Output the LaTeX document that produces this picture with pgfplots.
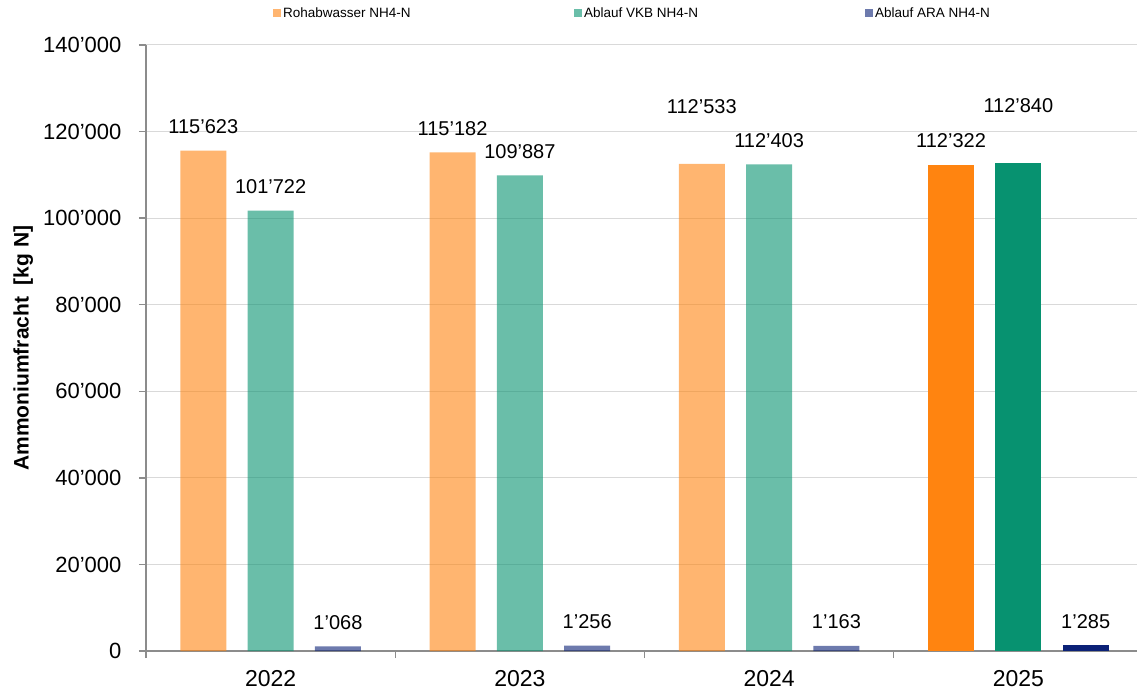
\documentclass[border=0pt]{standalone}
\usepackage{fontspec}
\setmainfont{Liberation Sans}
\usepackage{pgfplots}
\usepackage{pgfplotstable}
\pgfplotsset{compat=1.18}

\definecolor{cOrange}{HTML}{FF8410}
\definecolor{cGreen}{HTML}{079270}
\definecolor{cNavy}{HTML}{0B2177}
\definecolor{axisgray}{HTML}{8C8C8C}
\definecolor{gridgray}{HTML}{D9D9D9}

% x: bar position (year index 0..3 plus offset within the group),
% y: load in kg N, dy: extra lift of the value label (pt)
\pgfplotstableread{
x y dy
-0.27 115623 0
0.73 115182 0
1.73 112533 33
}\rohA
\pgfplotstableread{
x y dy
2.73 112322 0
}\rohB
\pgfplotstableread{
x y dy
0 101722 0
1 109887 0
2 112403 0
}\vkbA
\pgfplotstableread{
x y dy
3 112840 33
}\vkbB
\pgfplotstableread{
x y dy
0.27 1068 0
1.27 1256 0
2.27 1163 0
}\araA
\pgfplotstableread{
x y dy
3.27 1285 0
}\araB

\pgfplotsset{
  mybar/.style={
    ybar, bar width=46pt, bar shift=0pt, draw=none,
    legend image code/.code={\fill[##1, draw=none] (0pt,-4pt) rectangle (8pt,4pt);},
    nodes near coords={\pgfmathprintnumber[fixed, precision=0, 1000 sep={’}, assume math mode=true]{\pgfplotspointmeta}},
    visualization depends on={\thisrow{dy} \as \dylift},
    every node near coord/.append style={anchor=center, yshift={24+\dylift},
      text opacity=1, fill opacity=1, text=black, font=\fontsize{20}{24}\selectfont},
  },
}

\begin{document}
\begin{tikzpicture}[x=1pt,y=1pt]
\useasboundingbox (-146,-42) rectangle (991,651);
\begin{axis}[
  at={(0,0)}, anchor=south west,
  scale only axis, width=997pt, height=606pt,
  xmin=-0.5, xmax=3.5,
  ymin=0, ymax=140000,
  axis x line=bottom, axis y line=left,
  axis line style={-, draw=axisgray, line width=1.3pt},
  tick align=outside,
  xtick={0,1,2,3},
  xticklabels={2022,2023,2024,2025},
  major x tick style={draw=none},
  minor xtick={-0.5,0.5,1.5,2.5,3.5},
  minor x tick style={draw=axisgray, line width=1.3pt},
  minor tick length=7pt,
  ytick={0,20000,...,140000},
  major y tick style={draw=axisgray, line width=1.3pt},
  major tick length=7pt,
  scaled y ticks=false,
  /pgf/number format/.cd, fixed, precision=0, 1000 sep={’}, assume math mode=true,
  /pgfplots/.cd,
  ymajorgrids,
  major grid style={draw=gridgray, line width=1pt},
  xticklabel style={font=\fontsize{23}{27}\selectfont, yshift=-9pt},
  yticklabel style={font=\fontsize{22}{26}\selectfont, xshift=-14pt},
  ylabel={\bfseries Ammoniumfracht\ \ [kg N]},
  ylabel style={at={(axis description cs:-0.123,0.5)}, anchor=center,
    font=\fontsize{21}{25}\selectfont},
  legend columns=3,
  legend style={at={(axis description cs:0,1)}, anchor=west, xshift=127pt, yshift=32pt,
    draw=none, fill=none, inner sep=0pt,
    font=\fontsize{13.5}{16}\selectfont,
    cells={anchor=west}},
  clip=false,
]
\addplot[mybar, fill=cOrange, fill opacity=0.6]
  table[x=x, y=y] {\rohA};
\addlegendentry{\makebox[289pt][l]{Rohabwasser NH4-N}}
\addplot[mybar, fill=cGreen, fill opacity=0.6]
  table[x=x, y=y] {\vkbA};
\addlegendentry{\makebox[279pt][l]{Ablauf VKB NH4-N}}
\addplot[mybar, fill=cNavy, fill opacity=0.6]
  table[x=x, y=y] {\araA};
\addlegendentry{Ablauf ARA NH4-N}
\addplot[mybar, fill=cOrange, forget plot]
  table[x=x, y=y] {\rohB};
\addplot[mybar, fill=cGreen, forget plot]
  table[x=x, y=y] {\vkbB};
\addplot[mybar, fill=cNavy, forget plot]
  table[x=x, y=y] {\araB};
\end{axis}
\end{tikzpicture}
\end{document}
